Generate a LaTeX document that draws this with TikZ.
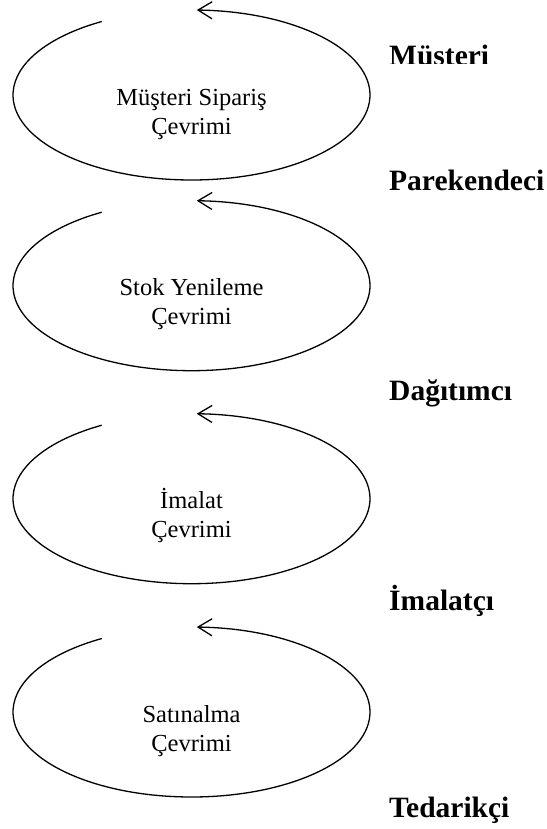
\documentclass[tikz,border=0pt]{standalone}
\usepackage{fontspec}
\setmainfont{Liberation Serif}
\usetikzlibrary{arrows.meta,calc}

\tikzset{
  cyclearc/.style={line width=1.3pt, {Straight Barb[length=14pt,width=17pt,line width=1.3pt]}-},
  cyclename/.style={inner sep=0pt, anchor=base, font=\fontsize{24.5pt}{28pt}\selectfont},
  stagename/.style={inner sep=0pt, anchor=base west, font=\fontsize{29.5pt}{34pt}\selectfont\bfseries},
}

% one supply-chain cycle: open ellipse with an arrow at its top
\newcommand{\cyclering}[1]{%
  \draw[cyclearc] ($(#1)+(88.3:178.5 and 85)$)
    arc[start angle=88.3, end angle=-239.8, x radius=178.5, y radius=85];}

\begin{document}
\begin{tikzpicture}[x=1pt,y=1pt]
  \useasboundingbox (0,0) rectangle (546,-829);

  % centres of the four cycles
  \coordinate (k1) at (191.5,-95);
  \coordinate (k2) at (191.5,-285.7);
  \coordinate (k3) at (191.5,-498.7);
  \coordinate (k4) at (191.5,-712);

  \cyclering{k1}
  \cyclering{k2}
  \cyclering{k3}
  \cyclering{k4}

  % cycle names
  \node[cyclename] (n1a) at ($(k1)+(0,-11)$) {Müşteri Sipariş};
  \node[cyclename] (n1b) at ($(k1)+(0,-40)$) {Çevrimi};
  \node[cyclename] (n2a) at ($(k2)+(0,-9.5)$) {Stok Yenileme};
  \node[cyclename] (n2b) at ($(k2)+(0,-38.5)$) {Çevrimi};
  \node[cyclename] (n3a) at ($(k3)+(0,-10)$) {İmalat};
  \node[cyclename] (n3b) at ($(k3)+(0,-39)$) {Çevrimi};
  \node[cyclename] (n4a) at ($(k4)+(0,-10)$) {Satınalma};
  \node[cyclename] (n4b) at ($(k4)+(0,-39)$) {Çevrimi};

  % chain members
  \begin{scope}
    \clip (380,0) rectangle (546,-64);
    \node[stagename] (s1) at (389,-66) {Müşteri};
  \end{scope}
  \node[stagename] (s2) at (389,-190) {Parekendeci};
  \node[stagename] (s3) at (389,-400.5) {Dağıtımcı};
  \node[stagename] (s4) at (389,-610) {İmalatçı};
  \node[stagename] (s5) at (389,-817) {Tedarikçi};
\end{tikzpicture}
\end{document}
